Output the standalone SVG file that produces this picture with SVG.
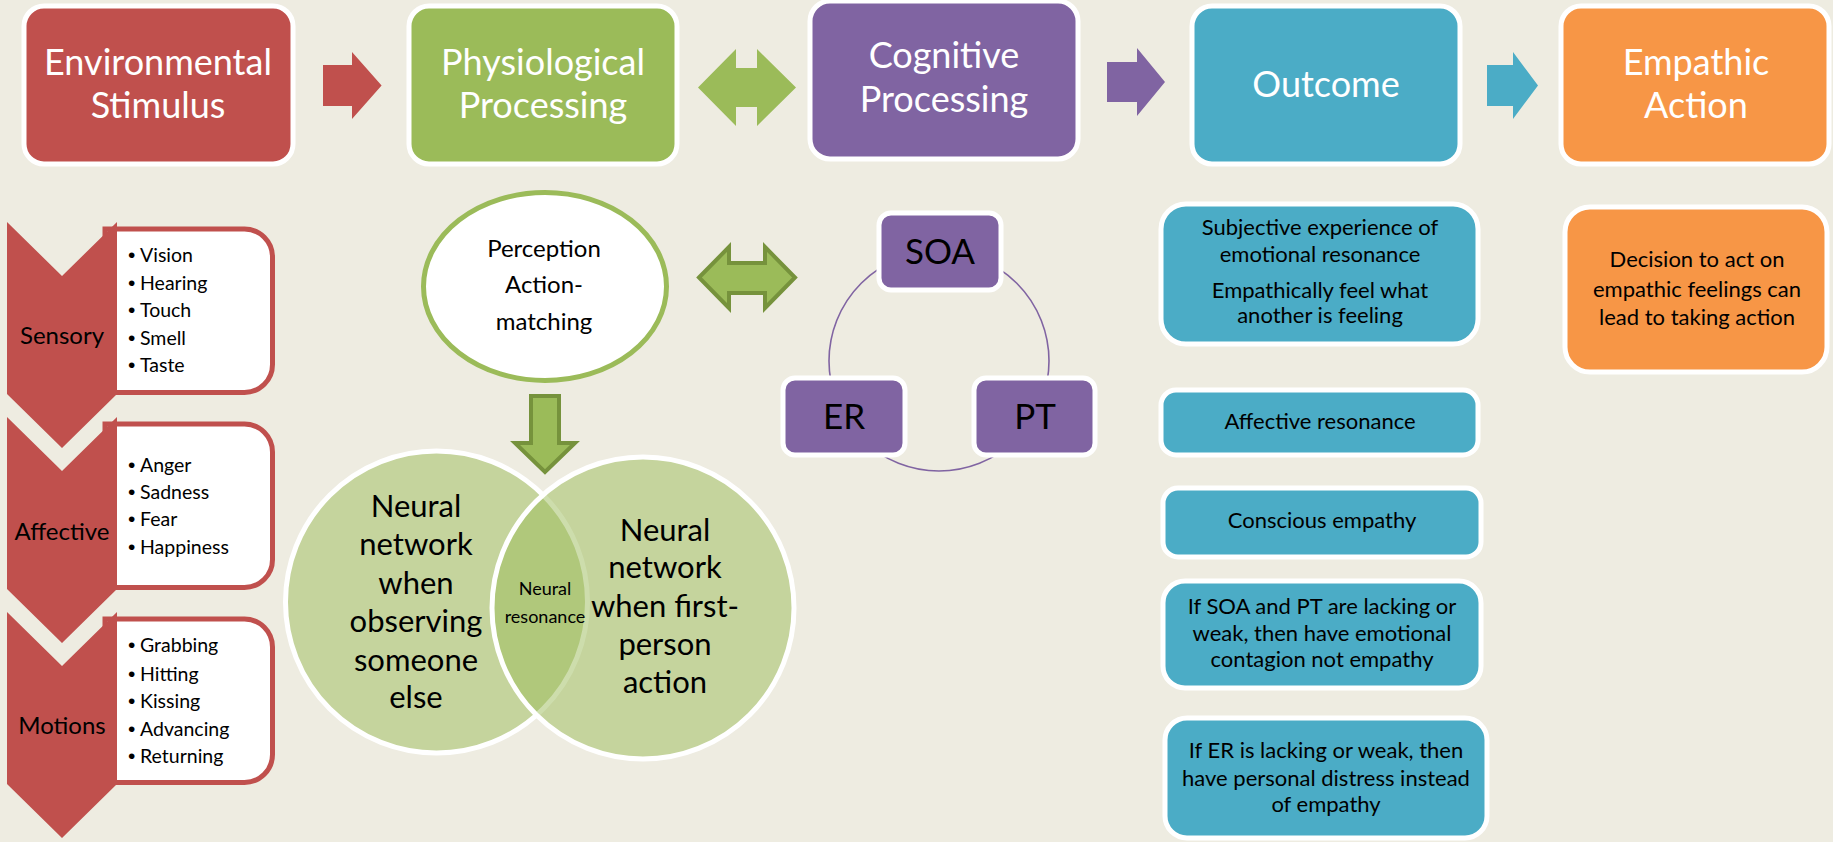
<svg xmlns="http://www.w3.org/2000/svg" width="1833" height="842" viewBox="0 0 1833 842">
<style>
text{font-family:Lato,"Open Sans","Liberation Sans",sans-serif;text-anchor:middle}
.hd{font-size:36px;fill:#fff}
.box{stroke:#fff;stroke-width:5}
.red{fill:#C0504D}.grn{fill:#9BBB59}.pur{fill:#8064A2}.blu{fill:#4BACC6}.org{fill:#F79646}
.lst{fill:#fff;stroke:#C0504D;stroke-width:5}
.bul{font-size:19.5px;fill:#000;text-anchor:start}
.dot{font-family:"Liberation Sans",sans-serif;font-size:21px}
.lab{font-size:24px;fill:#000}
.venn{fill:#9BBB59;fill-opacity:0.5;stroke:#fff;stroke-width:5}
.out{font-size:22px;fill:#000}
.big{font-size:31px;fill:#000}
.cyc{font-size:35px;fill:#000}
.garr{fill:#9BBB59;stroke:#76923C;stroke-width:4;stroke-linejoin:miter}
</style>
<rect width="1833" height="842" fill="#EEECE1"/>

<g id="connectors">
<polygon class="red" points="323,65 352,65 352,52 381.6,85.5 352,119 352,106 323,106"/>
<polygon class="grn" points="698,87.5 736,49 736,68 757,68 757,49 796,87.5 757,126 757,107 736,107 736,126"/>
<polygon class="pur" points="1107,62 1137,62 1137,48 1165,82 1137,116 1137,102 1107,102"/>
<polygon class="blu" points="1487,65 1513,65 1513,52 1538,85.5 1513,119 1513,106 1487,106"/>
<polygon class="garr" points="699,277.5 729,247 729,263 765,263 765,247 795,277.5 765,308 765,293 729,293 729,308"/>
<polygon class="garr" points="531,396 559,396 559,443 575,443 545,472 515,443 531,443"/>
<circle cx="939" cy="361" r="110" fill="none" stroke="#8064A2" stroke-width="1.6"/>
</g>

<g id="env-stimulus">
<rect class="box red" x="24" y="6" width="269" height="158" rx="20"/>
<text class="hd" x="158" y="75">Environmental</text>
<text class="hd" x="158" y="118">Stimulus</text>
</g>
<g id="physio">
<rect class="box grn" x="409" y="6" width="268" height="158" rx="20"/>
<text class="hd" x="543" y="75">Physiological</text>
<text class="hd" x="543" y="118">Processing</text>
</g>
<g id="cognitive">
<rect class="box pur" x="810" y="1" width="268" height="158" rx="20"/>
<text class="hd" x="944" y="68">Cognitive</text>
<text class="hd" x="944" y="112">Processing</text>
</g>
<g id="outcome">
<rect class="box blu" x="1192" y="6" width="268" height="158" rx="20"/>
<text class="hd" x="1326" y="97">Outcome</text>
</g>
<g id="empathic-action">
<rect class="box org" x="1561" y="6" width="268" height="158" rx="20"/>
<text class="hd" x="1696" y="75">Empathic</text>
<text class="hd" x="1696" y="118">Action</text>
</g>

<g id="sensory">
<path class="lst" d="M105,229 H244.5 A28,28 0 0 1 272.5,257 V364.5 A28,28 0 0 1 244.5,392.5 H105 Z"/>
<polygon class="red" points="7,222 62,276 117,222 117,394 62,448 7,394"/>
<text class="lab" x="62" y="344">Sensory</text>
<text class="bul"><tspan class="dot" x="128" y="262">•</tspan><tspan x="140" y="262">Vision</tspan><tspan class="dot" x="128" y="290">•</tspan><tspan x="140" y="290">Hearing</tspan><tspan class="dot" x="128" y="317">•</tspan><tspan x="140" y="317">Touch</tspan><tspan class="dot" x="128" y="345">•</tspan><tspan x="140" y="345">Smell</tspan><tspan class="dot" x="128" y="372">•</tspan><tspan x="140" y="372">Taste</tspan></text>
</g>
<g id="affective">
<path class="lst" d="M105,424 H244.5 A28,28 0 0 1 272.5,452 V559.5 A28,28 0 0 1 244.5,587.5 H105 Z"/>
<polygon class="red" points="7,417 62,471 117,417 117,589 62,643 7,589"/>
<text class="lab" x="62" y="540">Affective</text>
<text class="bul"><tspan class="dot" x="128" y="472">•</tspan><tspan x="140" y="472">Anger</tspan><tspan class="dot" x="128" y="499">•</tspan><tspan x="140" y="499">Sadness</tspan><tspan class="dot" x="128" y="526">•</tspan><tspan x="140" y="526">Fear</tspan><tspan class="dot" x="128" y="554">•</tspan><tspan x="140" y="554">Happiness</tspan></text>
</g>
<g id="motions">
<path class="lst" d="M105,619 H244.5 A28,28 0 0 1 272.5,647 V754.5 A28,28 0 0 1 244.5,782.5 H105 Z"/>
<polygon class="red" points="7,612 62,666 117,612 117,784 62,838 7,784"/>
<text class="lab" x="62" y="734">Motions</text>
<text class="bul"><tspan class="dot" x="128" y="652">•</tspan><tspan x="140" y="652">Grabbing</tspan><tspan class="dot" x="128" y="681">•</tspan><tspan x="140" y="681">Hitting</tspan><tspan class="dot" x="128" y="708">•</tspan><tspan x="140" y="708">Kissing</tspan><tspan class="dot" x="128" y="736">•</tspan><tspan x="140" y="736">Advancing</tspan><tspan class="dot" x="128" y="763">•</tspan><tspan x="140" y="763">Returning</tspan></text>
</g>

<g id="perception">
<ellipse cx="545" cy="286.5" rx="121.5" ry="94" fill="#fff" stroke="#9BBB59" stroke-width="5"/>
<text class="lab" x="544" y="257">Perception</text>
<text class="lab" x="544" y="293">Action-</text>
<text class="lab" x="544" y="330">matching</text>
</g>

<g id="venn-observing">
<circle class="venn" cx="436.5" cy="602" r="151"/>
</g>
<g id="venn-first-person">
<circle class="venn" cx="643" cy="608" r="151"/>
</g>
<g id="venn-text">
<text class="big" x="416" y="517">Neural</text>
<text class="big" x="416" y="555">network</text>
<text class="big" x="416" y="594">when</text>
<text class="big" x="416" y="632">observing</text>
<text class="big" x="416" y="671">someone</text>
<text class="big" x="416" y="708">else</text>
<text class="big" x="665" y="541">Neural</text>
<text class="big" x="665" y="578">network</text>
<text class="big" x="665" y="617">when first-</text>
<text class="big" x="665" y="655">person</text>
<text class="big" x="665" y="693">action</text>
<text font-size="18" x="545" y="595">Neural</text>
<text font-size="18" x="545" y="623">resonance</text>
</g>

<g id="soa">
<rect class="box pur" x="879" y="213" width="122" height="77" rx="12"/>
<text class="cyc" x="940" y="264">SOA</text>
</g>
<g id="er">
<rect class="box pur" x="783" y="378" width="122" height="77" rx="12"/>
<text class="cyc" x="844" y="429">ER</text>
</g>
<g id="pt">
<rect class="box pur" x="974" y="378" width="121" height="77" rx="12"/>
<text class="cyc" x="1035" y="429">PT</text>
</g>

<g id="outcome-subjective">
<rect class="box blu" x="1161" y="204" width="317" height="140" rx="25"/>
<text class="out" x="1320" y="235">Subjective experience of</text>
<text class="out" x="1320" y="262">emotional resonance</text>
<text class="out" x="1320" y="298">Empathically feel what</text>
<text class="out" x="1320" y="323">another is feeling</text>
</g>
<g id="outcome-affective">
<rect class="box blu" x="1161" y="390" width="317" height="65" rx="15"/>
<text class="out" x="1320" y="429">Affective resonance</text>
</g>
<g id="outcome-conscious">
<rect class="box blu" x="1163" y="488" width="318" height="69" rx="15"/>
<text class="out" x="1322" y="528">Conscious empathy</text>
</g>
<g id="outcome-contagion">
<rect class="box blu" x="1163" y="581" width="318" height="107" rx="22"/>
<text class="out" x="1322" y="614">If SOA and PT are lacking or</text>
<text class="out" x="1322" y="641">weak, then have emotional</text>
<text class="out" x="1322" y="667">contagion not empathy</text>
</g>
<g id="outcome-distress">
<rect class="box blu" x="1165" y="718" width="322" height="120" rx="22"/>
<text class="out" x="1326" y="758">If ER is lacking or weak, then</text>
<text class="out" x="1326" y="786">have personal distress instead</text>
<text class="out" x="1326" y="812">of empathy</text>
</g>
<g id="decision">
<rect class="box org" x="1565" y="207" width="262" height="165" rx="25"/>
<text class="out" font-size="24" x="1697" y="267">Decision to act on</text>
<text class="out" font-size="24" x="1697" y="297">empathic feelings can</text>
<text class="out" font-size="24" x="1697" y="325">lead to taking action</text>
</g>
</svg>
